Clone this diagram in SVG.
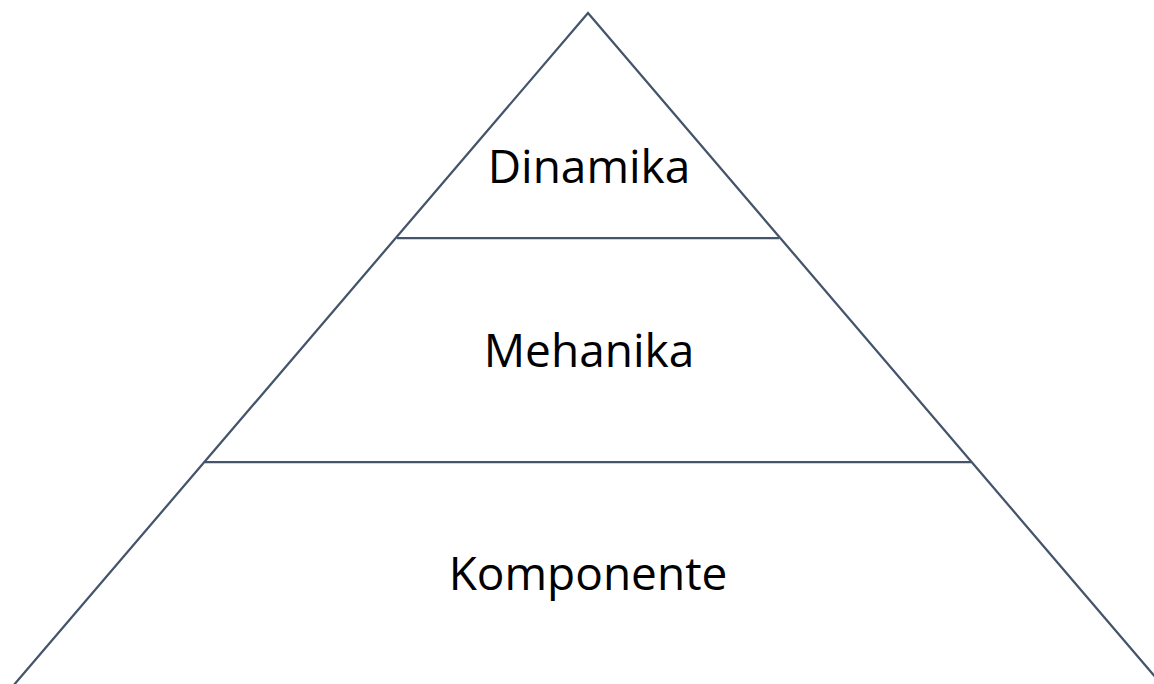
<svg xmlns="http://www.w3.org/2000/svg" width="1154" height="684" viewBox="0 0 1154 684">
<style>
.ln{stroke:#44546A;stroke-width:2.25;fill:none}
.t{font-family:"Open Sans","Liberation Sans",sans-serif;font-size:46px;fill:#000;text-anchor:middle}
</style>
<rect width="1154" height="684" fill="#fff"/>
<g id="connectors">
<path class="ln" d="M13,686 L588,13 L1163,686"/>
<line class="ln" x1="397" y1="238" x2="779" y2="238"/>
<line class="ln" x1="205" y1="462" x2="971" y2="462"/>
</g>
<g id="dinamika"><text class="t" x="589" y="183">Dinamika</text></g>
<g id="mehanika"><text class="t" x="589" y="367">Mehanika</text></g>
<g id="komponente"><text class="t" x="588" y="590">Komponente</text></g>
</svg>
